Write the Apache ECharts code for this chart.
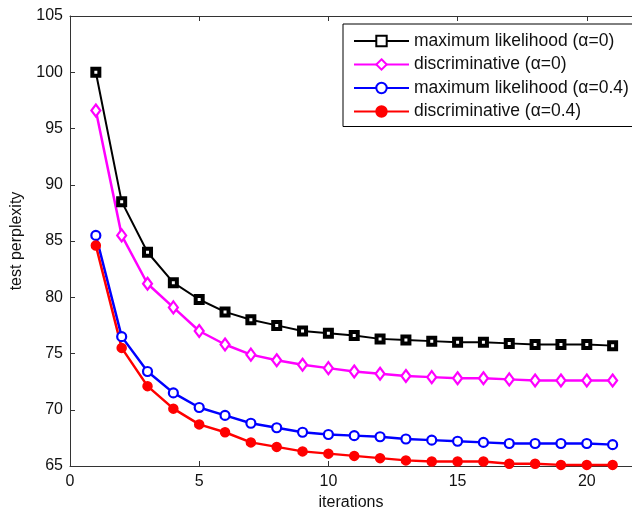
<!DOCTYPE html>
<html>
<head>
<meta charset="utf-8">
<script src="https://cdn.jsdelivr.net/npm/echarts@6/dist/echarts.min.js"></script>
<style>
  html, body { margin: 0; padding: 0; background: #fff; }
  #chart { width: 632px; height: 510px; }
</style>
</head>
<body>
<div id="chart"></div>
<script>
const iterations = [1, 2, 3, 4, 5, 6, 7, 8, 9, 10, 11, 12, 13, 14, 15, 16, 17, 18, 19, 20, 21]
const mlAlpha0 = [100.0, 88.5, 84.0, 81.3, 79.8, 78.7, 78.0, 77.5, 77.0, 76.8, 76.6, 76.3, 76.2, 76.1, 76.0, 76.0, 75.9, 75.8, 75.8, 75.8, 75.7]
const discAlpha0 = [96.6, 85.5, 81.2, 79.1, 77.0, 75.8, 74.9, 74.4, 74.0, 73.7, 73.4, 73.2, 73.0, 72.9, 72.8, 72.8, 72.7, 72.6, 72.6, 72.6, 72.6]
const mlAlpha04 = [85.5, 76.5, 73.4, 71.5, 70.2, 69.5, 68.8, 68.4, 68.0, 67.8, 67.7, 67.6, 67.4, 67.3, 67.2, 67.1, 67.0, 67.0, 67.0, 67.0, 66.9]
const discAlpha04 = [84.6, 75.5, 72.1, 70.1, 68.7, 68.0, 67.1, 66.7, 66.3, 66.1, 65.9, 65.7, 65.5, 65.4, 65.4, 65.4, 65.2, 65.2, 65.1, 65.1, 65.1]
const xTicks = [0, 5, 10, 15, 20]
const seriesNames = ['maximum likelihood (\u03b1=0)', 'discriminative (\u03b1=0)', 'maximum likelihood (\u03b1=0.4)', 'discriminative (\u03b1=0.4)']

const FONT = 'Liberation Sans, Arial, sans-serif'
const AXIS = '#333'

const pairs = ys => iterations.map((x, i) => [x, ys[i]])

const chart = echarts.init(document.getElementById('chart'), null, { renderer: 'canvas' })

// matlab-ish line + marker
const line = (name, ys, color, symbol, size, fill, width, lineWidth) => ({
  name,
  type: 'line',
  data: pairs(ys),
  symbol,
  symbolSize: size,
  showAllSymbol: true,
  lineStyle: { color, width: lineWidth },
  itemStyle: { color: fill, borderColor: color, borderWidth: width },
  emphasis: { disabled: true },
  animation: false
})

chart.setOption({
  animation: false,
  textStyle: { fontFamily: FONT },
  grid: { left: 70, right: 0, top: 16, bottom: 44, outerBoundsMode: 'none', containLabel: false },
  legend: {
    orient: 'vertical',
    left: 343,
    top: 24,
    itemWidth: 55,
    itemHeight: 13,
    itemGap: 5.5,
    padding: [8, 30, 6, 10],
    borderColor: '#000',
    borderWidth: 1,
    backgroundColor: '#fff',
    textStyle: { fontSize: 17.5, color: '#111', fontFamily: FONT },
    data: seriesNames
  },
  xAxis: [{
    type: 'value',
    min: 0,
    max: 21.75,
    interval: 5,
    name: 'iterations',
    nameLocation: 'middle',
    nameGap: 27,
    nameTextStyle: { fontSize: 16, color: '#111' },
    axisLine: { onZero: false, lineStyle: { color: AXIS, width: 1 } },
    axisTick: { inside: true, length: 5, lineStyle: { color: AXIS } },
    axisLabel: {
      fontSize: 16, color: '#111', margin: 8,
      customValues: xTicks,
      formatter: v => (xTicks.includes(v) ? String(v) : '')
    },
    splitLine: { show: false }
  }, {
    type: 'value',
    position: 'top',
    min: 0,
    max: 21.75,
    interval: 5,
    axisLine: { onZero: false, lineStyle: { color: AXIS, width: 1 } },
    axisTick: { inside: true, length: 5, lineStyle: { color: AXIS } },
    axisLabel: { show: false },
    splitLine: { show: false }
  }],
  yAxis: {
    type: 'value',
    min: 65,
    max: 105,
    interval: 5,
    name: 'test perplexity',
    nameLocation: 'middle',
    nameGap: 45,
    nameTextStyle: { fontSize: 16, color: '#111' },
    axisLine: { show: true, lineStyle: { color: AXIS, width: 1 } },
    axisTick: { inside: true, length: 5, lineStyle: { color: AXIS } },
    axisLabel: { fontSize: 16, color: '#111', margin: 7 },
    splitLine: { show: false }
  },
  series: [
    line(seriesNames[0], mlAlpha0, '#000000', 'rect', 7, '#ffffff', 4, 2),
    line(seriesNames[1], discAlpha0, '#ff00ff', 'diamond', [9, 12], '#ffffff', 2.2, 2.5),
    line(seriesNames[2], mlAlpha04, '#0000ff', 'circle', 9, '#ffffff', 2.2, 2.5),
    line(seriesNames[3], discAlpha04, '#ff0000', 'circle', 9, '#ff0000', 1.5, 2.5)
  ]
})
</script>
</body>
</html>
